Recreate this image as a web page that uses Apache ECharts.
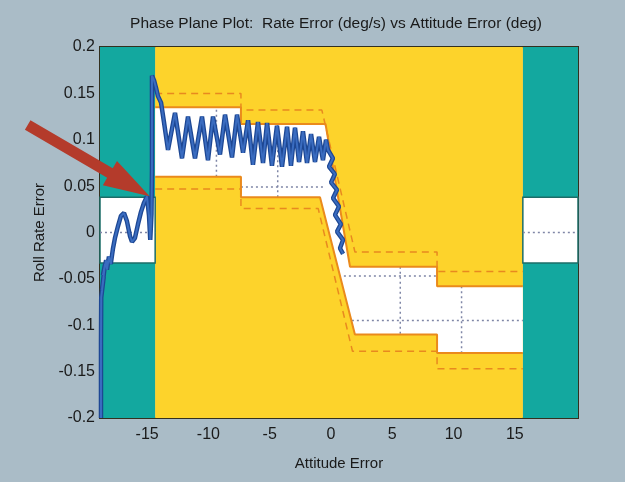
<!DOCTYPE html>
<html>
<head>
<meta charset="utf-8">
<script src="https://cdn.jsdelivr.net/npm/echarts@6/dist/echarts.min.js"></script>
<style>
  html, body { margin: 0; padding: 0; background: #aabcc7; }
  #chart { width: 625px; height: 482px; }
</style>
</head>
<body>
<div id="chart"></div>
<script>
// Axis ranges and tick labels
const xRange = [-19.5, 19.5];
const yRange = [-0.2, 0.2];
const xTickValues = [-15, -10, -5, 0, 5, 10, 15];
const yTickStep = 0.05;

// Attitude limits: saturation zones outside ±15 deg, control zone inside
const saturationZones = [[-19.5, -15], [15, 19.5]];
const controlZone = [-15, 15];
// Rate deadband shown inside the saturation zones
const deadband = [-0.033, 0.038];

// Switching-curve corridor (solid edges), [attitude, rate]
const switchUpper = [[-15, 0.135], [-8, 0.135], [-8, 0.117], [-1.1, 0.117], [0.9, -0.037], [8, -0.037], [8, -0.058], [15, -0.058]];
const switchLower = [[-15, 0.06], [-8, 0.06], [-8, 0.038], [-1.55, 0.038], [1.3, -0.11], [8, -0.11], [8, -0.13], [15, -0.13]];
// Outer limit curves (dashed)
const limitUpper = [[-15, 0.15], [-8, 0.15], [-8, 0.132], [-1.4, 0.132], [1.3, -0.021], [8, -0.021], [8, -0.042], [15, -0.042]];
const limitLower = [[-15, 0.047], [-8, 0.047], [-8, 0.026], [-1.7, 0.026], [1.1, -0.128], [8, -0.128], [8, -0.147], [15, -0.147]];

// Dotted reference grid, visible through the open (white) regions
const gridSegments = [
  [[-10, 0.06], [-10, 0.135]],
  [[-5, 0.038], [-5, 0.117]],
  [[-8, 0.049], [-1.3, 0.049]],
  [[0.4, -0.047], [8, -0.047]],
  [[1.05, -0.095], [15, -0.095]],
  [[5, -0.037], [5, -0.11]],
  [[10, -0.058], [10, -0.13]],
  [[15, 0], [19.5, 0]],
  [[-19.5, 0], [-15, 0]]
];

// Roll phase-plane trajectory, [attitude error, rate error]
const trajectory = [
  [-19.42, -0.200], [-19.42, -0.120], [-19.40, -0.070], [-19.20, -0.048], [-19.34, -0.062],
  [-19.10, -0.035], [-19.26, -0.046], [-19.00, -0.030], [-18.93, -0.040], [-18.77, -0.026],
  [-18.62, -0.034], [-18.45, -0.018], [-18.28, -0.006], [-18.03, 0.007], [-17.79, 0.018],
  [-17.54, 0.021], [-17.30, 0.012], [-17.05, -0.004], [-16.89, -0.010], [-16.65, -0.006],
  [-16.40, 0.009], [-16.16, 0.022], [-15.91, 0.032], [-15.67, 0.039], [-15.50, 0.018],
  [-15.40, -0.008], [-15.30, 0.020], [-15.26, 0.067], [-15.26, 0.110],
  [-15.26, 0.154], [-15.26, 0.169], [-15.09, 0.164], [-14.93, 0.156], [-14.77, 0.147],
  [-14.52, 0.140], [-14.28, 0.119], [-13.95, 0.089],
  [-13.38, 0.129], [-12.81, 0.080], [-12.32, 0.125], [-11.75, 0.080], [-11.18, 0.125],
  [-10.69, 0.078], [-10.28, 0.125], [-9.71, 0.084], [-9.30, 0.127], [-8.73, 0.081],
  [-8.32, 0.127], [-7.83, 0.086], [-7.42, 0.121], [-7.02, 0.073], [-6.61, 0.119],
  [-6.20, 0.075], [-5.87, 0.118], [-5.47, 0.072], [-5.06, 0.115], [-4.65, 0.071],
  [-4.24, 0.114], [-3.92, 0.072], [-3.59, 0.113], [-3.26, 0.076], [-2.94, 0.109],
  [-2.61, 0.075], [-2.28, 0.106], [-1.96, 0.076], [-1.63, 0.103], [-1.31, 0.078],
  [-1.06, 0.100],
  [-0.90, 0.089], [-0.49, 0.080], [-0.82, 0.071], [-0.33, 0.063], [-0.65, 0.054],
  [-0.16, 0.046], [-0.49, 0.037], [0.00, 0.028], [-0.33, 0.019], [0.16, 0.009],
  [-0.16, 0.001], [0.33, -0.008], [0.08, -0.017], [0.33, -0.023]
];

// Pointer arrow, from its tail to its tip
const arrowTail = [-25.4, 0.116];
const arrowTip = [-15.45, 0.039];

const FONT = "'Liberation Sans', Arimo, Arial, sans-serif";
const TEXT = '#1a1a1a';

function rectSeries(ranges, color, z, stroke) {
  return {
    type: 'custom', z: z, silent: true, animation: false,
    encode: { x: [0, 1], y: [2, 3] },
    data: ranges,
    renderItem: function (params, api) {
      const a = api.coord([api.value(0), api.value(3)]);
      const b = api.coord([api.value(1), api.value(2)]);
      return {
        type: 'rect',
        shape: { x: a[0], y: a[1], width: b[0] - a[0], height: b[1] - a[1] },
        style: stroke ? { fill: color, stroke: stroke, lineWidth: 1.5 } : { fill: color }
      };
    }
  };
}

function lineSeries(data, color, width, type, z) {
  return {
    type: 'line', data: data, z: z, silent: true, animation: false,
    symbol: 'none', smooth: false,
    lineStyle: { color: color, width: width, type: type }
  };
}

const chart = echarts.init(document.getElementById('chart'), null, { renderer: 'canvas' });

const series = [];
series.push(rectSeries(saturationZones.map(r => [r[0], r[1], yRange[0], yRange[1]]), '#13a89f', 1));
series.push(rectSeries([[controlZone[0], controlZone[1], yRange[0], yRange[1]]], '#fdd32b', 1));
series.push(rectSeries(saturationZones.map(r => [r[0], r[1], deadband[0], deadband[1]]), '#ffffff', 2, '#1d6d68'));
series.push({
  type: 'custom', z: 2, silent: true, animation: false,
  data: [[0, 0]],
  renderItem: function (params, api) {
    const pts = switchUpper.concat(switchLower.slice().reverse()).map(p => api.coord(p));
    return { type: 'polygon', shape: { points: pts }, style: { fill: '#ffffff' } };
  }
});
gridSegments.forEach(seg => series.push(lineSeries(seg, '#7f86a6', 1.5, [2, 3], 3)));
series.push(lineSeries(limitUpper, '#e8891f', 1.5, [7, 5], 4));
series.push(lineSeries(limitLower, '#e8891f', 1.5, [7, 5], 4));
series.push(lineSeries(switchUpper, '#ea8a1c', 2, 'solid', 5));
series.push(lineSeries(switchLower, '#ea8a1c', 2, 'solid', 5));
series.push(lineSeries(trajectory, '#1d4793', 4.5, 'solid', 6));
series.push(lineSeries(trajectory, '#3a6cc0', 2, 'solid', 7));

chart.setOption({
  backgroundColor: '#aabcc7',
  animation: false,
  title: {
    text: 'Phase Plane Plot:  Rate Error (deg/s) vs Attitude Error (deg)',
    left: 336, top: 16, padding: 0, textAlign: 'center',
    textStyle: { fontFamily: FONT, fontSize: 15.5, fontWeight: 'normal', color: TEXT }
  },
  grid: {
    left: 100, right: 47, top: 47, bottom: 64,
    show: true, borderColor: '#33301f', borderWidth: 2, backgroundColor: 'transparent'
  },
  xAxis: {
    type: 'value', min: xRange[0], max: xRange[1],
    name: 'Attitude Error', nameLocation: 'middle', nameGap: 38,
    nameTextStyle: { fontFamily: FONT, fontSize: 15, color: TEXT },
    axisLine: { show: false }, axisTick: { show: false }, splitLine: { show: false },
    axisLabel: {
      customValues: xTickValues, margin: 9, padding: [0, 16, 0, 0],
      fontFamily: FONT, fontSize: 16, color: TEXT
    }
  },
  yAxis: {
    type: 'value', min: yRange[0], max: yRange[1], interval: yTickStep,
    name: 'Roll Rate Error', nameLocation: 'middle', nameGap: 50, nameRotate: 90,
    nameTextStyle: { fontFamily: FONT, fontSize: 15, color: TEXT },
    axisLine: { show: false }, axisTick: { show: false }, splitLine: { show: false },
    axisLabel: { margin: 5, fontFamily: FONT, fontSize: 16, color: TEXT }
  },
  series: series
});

// Pointer arrow drawn from its data anchors
const tip = chart.convertToPixel({ gridIndex: 0 }, arrowTip);
const tail = chart.convertToPixel({ gridIndex: 0 }, arrowTail);
const dx = tip[0] - tail[0], dy = tip[1] - tail[1];
const len = Math.hypot(dx, dy);
const ux = dx / len, uy = dy / len, nx = -uy, ny = ux;
const shaftHalf = 5.5, headLen = 46, headHalf = 14;
const bx = tip[0] - ux * headLen, by = tip[1] - uy * headLen;
const arrowPts = [
  [tail[0] + nx * shaftHalf, tail[1] + ny * shaftHalf],
  [bx + nx * shaftHalf, by + ny * shaftHalf],
  [bx + nx * headHalf, by + ny * headHalf],
  [tip[0], tip[1]],
  [bx - nx * headHalf, by - ny * headHalf],
  [bx - nx * shaftHalf, by - ny * shaftHalf],
  [tail[0] - nx * shaftHalf, tail[1] - ny * shaftHalf]
];
chart.setOption({
  graphic: [{ type: 'polygon', z: 100, silent: true, shape: { points: arrowPts }, style: { fill: '#b43b2b' } }]
});
</script>
</body>
</html>
